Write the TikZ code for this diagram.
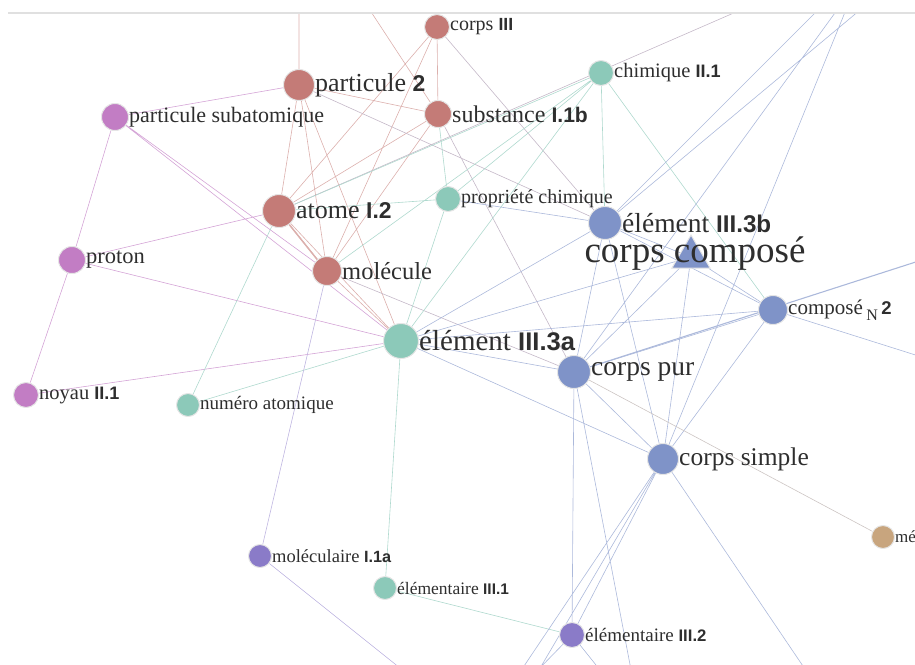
\documentclass[tikz,border=0pt]{standalone}
\usepackage{fontspec}
\setmainfont{Liberation Serif}
\setsansfont{Liberation Sans}[Scale=0.88]
\usepackage{tikz}
\usetikzlibrary{
  shapes.geometric,
  backgrounds
}

\definecolor{cRouge}{HTML}{C47B77}
\definecolor{cVert}{HTML}{8CC9B9}
\definecolor{cBleu}{HTML}{7F93C8}
\definecolor{cRose}{HTML}{C27DC4}
\definecolor{cMauve}{HTML}{8A7BC8}
\definecolor{cOcre}{HTML}{C8A57E}
\definecolor{cTexte}{HTML}{2E2E2E}

\newcommand{\rom}[1]{{\sffamily\bfseries #1}}
\newcommand{\fs}[1]{\fontsize{#1}{#1}\selectfont}

\tikzset{
  noeud/.style={circle, inner sep=0pt, draw=black!10, line width=1pt, label distance=4.5pt},
  etiq/.style={text=cTexte, inner sep=0pt},
  lien/.style={line width=0.6pt},
  lienR/.style={lien, draw=cRouge!60},
  lienV/.style={lien, draw=cVert!70},
  lienB/.style={lien, draw=cBleu!65},
  lienRo/.style={lien, draw=cRose!70},
  lienM/.style={lien, draw=cMauve!55},
  lienX/.style={lien, draw=cRouge!45!cBleu!60}
}

\begin{document}
\begin{tikzpicture}[x=1pt, y=-1pt]
\useasboundingbox (0,0) rectangle (915,664);
\draw[black!12, line width=1.5pt] (8,13) -- (915,13);

\node[noeud, fill=cRouge, minimum size=25pt, label={[etiq, font=\fs{20}]right:corps \rom{III}}] (corpsIII) at (437,27) {};
\node[noeud, fill=cRouge, minimum size=31pt, label={[etiq, font=\fs{26}]right:particule \rom{2}}] (particule) at (299,85) {};
\node[noeud, fill=cRouge, minimum size=27pt, label={[etiq, font=\fs{24}]right:substance \rom{I.1b}}] (substance) at (438,114) {};
\node[noeud, fill=cRose, minimum size=27pt, label={[etiq, font=\fs{22}]right:particule subatomique}] (subatom) at (115,117) {};
\node[noeud, fill=cVert, minimum size=25pt, label={[etiq, font=\fs{20.5}]right:chimique \rom{II.1}}] (chimique) at (601,73) {};
\node[noeud, fill=cRouge, minimum size=33pt, label={[etiq, font=\fs{26}]right:atome \rom{I.2}}] (atome) at (279,211) {};
\node[noeud, fill=cVert, minimum size=25pt, label={[etiq, font=\fs{20}]right:propriété chimique}] (propriete) at (448,199) {};
\node[noeud, fill=cBleu, minimum size=33pt, label={[etiq, font=\fs{27.5}]right:élément \rom{III.3b}}] (elemB) at (605,223) {};
\node[regular polygon, regular polygon sides=3, fill=cBleu, draw=black!10, line width=1pt, inner sep=0pt, minimum size=44pt] (compose) at (691,257) {};
\node[etiq, font=\fs{37}] (composeTxt) at (695,254) {corps composé};
\node[noeud, fill=cRose, minimum size=27pt, label={[etiq, font=\fs{22.5}]right:proton}] (proton) at (72,260) {};
\node[noeud, fill=cRouge, minimum size=29pt, label={[etiq, font=\fs{24.5}]right:molécule}] (molecule) at (327,271) {};
\node[noeud, fill=cBleu, minimum size=29pt, label={[etiq, font=\fs{21}]right:composé\,\raisebox{-6pt}{\fs{16}N}\,\rom{2}}] (composeN) at (773,310) {};
\node[noeud, fill=cVert, minimum size=35pt, label={[etiq, font=\fs{29}]right:élément \rom{III.3a}}] (elemA) at (401,341) {};
\node[noeud, fill=cBleu, minimum size=33pt, label={[etiq, font=\fs{27.5}]right:corps pur}] (pur) at (574,372) {};
\node[noeud, fill=cRose, minimum size=25pt, label={[etiq, font=\fs{20.5}]right:noyau \rom{II.1}}] (noyau) at (26,395) {};
\node[noeud, fill=cVert, minimum size=23pt, label={[etiq, font=\fs{19}]right:numéro atomique}] (numero) at (188,405) {};
\node[noeud, fill=cBleu, minimum size=31pt, label={[etiq, font=\fs{25.5}]right:corps simple}] (simple) at (663,459) {};
\node[noeud, fill=cOcre, minimum size=23pt, label={[etiq, font=\fs{17}]right:mé}] (metal) at (883,537) {};
\node[noeud, fill=cMauve, minimum size=23pt, label={[etiq, font=\fs{18.5}]right:moléculaire \rom{I.1a}}] (molecI) at (260,556) {};
\node[noeud, fill=cVert, minimum size=23pt, label={[etiq, font=\fs{17.5}]right:élémentaire \rom{III.1}}] (elemIIIa) at (385,588) {};
\node[noeud, fill=cMauve, minimum size=25pt, label={[etiq, font=\fs{19}]right:élémentaire \rom{III.2}}] (elemIIIb) at (572,635) {};

\coordinate (hautA) at (299,-5);
\coordinate (hautB) at (360,-5);
\coordinate (hautC) at (775,-5);
\coordinate (hautD) at (833,-5);
\coordinate (hautE) at (878,-5);
\coordinate (hautF) at (848,-5);
\coordinate (hautG) at (852,-5);
\coordinate (droiteA) at (925,259);
\coordinate (droiteB) at (925,358);
\coordinate (basA) at (415,680);
\coordinate (basB) at (518,675);
\coordinate (basC) at (536,675);
\coordinate (basD) at (533,675);
\coordinate (basE) at (604,675);
\coordinate (basF) at (632,675);
\coordinate (basG) at (809,675);

\begin{pgfonlayer}{background}
\begin{scope}
\clip (0,14) rectangle (915,664);
\draw[lienR] (particule) -- (hautA) (particule) -- (atome) (particule) -- (molecule)
  (particule) -- (substance) (particule) -- (elemA)
  (corpsIII) -- (substance) (corpsIII) -- (atome) (corpsIII) -- (molecule)
  (substance) -- (hautB) (substance) -- (atome) (substance) -- (molecule)
  (atome) -- (molecule) (atome) -- (elemA) (molecule) -- (elemA);
\draw[lienR, line width=1.2pt] ([yshift=-1pt]atome.center) -- ([yshift=-1pt]molecule.center);
\draw[lienX] (particule) -- (elemB) (corpsIII) -- (elemB) (substance) -- (pur)
  (molecule) -- (pur) (atome) -- (hautC);
\draw[lienRo] (subatom) -- (particule) (subatom) -- (proton) (proton) -- (noyau)
  (subatom) -- (molecule) (subatom) -- (elemA) (proton) -- (atome)
  (proton) -- (elemA) (noyau) -- (elemA);
\draw[lienV] (numero) -- (elemA) (numero) -- (atome) (elemIIIa) -- (elemA)
  (propriete) -- (substance) (propriete) -- (atome) (propriete) -- (elemA)
  (chimique) -- (propriete) (chimique) -- (elemA) (chimique) -- (molecule)
  (chimique) -- (atome) (chimique) -- (elemB) (chimique) -- (composeN)
  (elemIIIa) -- (elemIIIb);
\draw[lienM] (molecI) -- (molecule) (molecI) -- (basA);
\draw[lienB] (elemA) -- (elemB) (elemA) -- (pur) (elemA) -- (simple)
  (elemA) -- (composeN) (elemA) -- (compose) (propriete) -- (elemB)
  (elemB) -- (compose) (elemB) -- (composeN) (elemB) -- (pur) (elemB) -- (simple)
  (elemB) -- (hautD) (elemB) -- (hautE)
  (compose) -- (pur) (compose) -- (simple) (compose) -- (composeN)
  (composeN) -- (pur) (composeN) -- (simple) (composeN) -- (droiteB)
  (pur) -- (simple) (pur) -- (elemIIIb) (pur) -- (basF) (pur) -- (hautF)
  (simple) -- (elemIIIb) (simple) -- (basB) (simple) -- (basC) (simple) -- (basG)
  (simple) -- (hautG) (elemIIIb) -- (basD) (elemIIIb) -- (basE);
\draw[lienB, line width=1.1pt] (pur) -- (droiteA);
\draw[lien, draw=cBleu!40!cOcre!60] (pur) -- (metal);
\end{scope}
\end{pgfonlayer}
\end{tikzpicture}
\end{document}
